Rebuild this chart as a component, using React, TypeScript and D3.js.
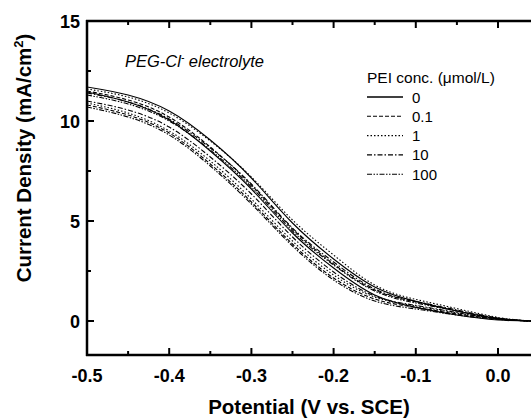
import React from 'react';
import * as d3 from 'd3';

// potential grid (V vs. SCE) shared by every scan
const potentials = [-0.5, -0.45, -0.4, -0.35, -0.3, -0.25, -0.2, -0.15, -0.1, -0.05, 0, 0.04];

// PEI concentrations (umol/L), two scans each
const concLabels = ['0', '0.1', '1', '10', '100'];
const dashes = ['', '4 2', '1.5 2', '5 2 1.5 2', '5 1.5 1.5 1.5 1.5 1.5'];

const scanA = [
  [11.7, 11.3, 10.5, 9.05, 7.15, 4.9, 3.1, 1.7, 0.98, 0.5, 0.12, 0],
  [11.5, 11.05, 10.2, 8.7, 6.8, 4.6, 2.85, 1.55, 0.95, 0.5, 0.14, 0],
  [11.6, 11.2, 10.4, 9.0, 7.2, 5.05, 3.3, 1.8, 1.08, 0.62, 0.18, 0],
  [11.4, 10.95, 10.1, 8.65, 6.85, 4.65, 2.95, 1.6, 0.98, 0.55, 0.15, 0],
  [11.3, 10.85, 10.0, 8.55, 6.7, 4.5, 2.8, 1.5, 0.9, 0.5, 0.13, 0],
];
const scanB = [
  [11.45, 10.95, 10.05, 8.5, 6.6, 4.4, 2.65, 1.3, 0.68, 0.3, 0.05, 0],
  [10.8, 10.3, 9.4, 7.85, 5.95, 3.85, 2.15, 1.1, 0.68, 0.35, 0.1, 0],
  [10.9, 10.4, 9.5, 8.0, 6.1, 4.0, 2.3, 1.2, 0.75, 0.4, 0.11, 0],
  [11.0, 10.55, 9.7, 8.2, 6.35, 4.2, 2.45, 1.25, 0.78, 0.42, 0.11, 0],
  [10.7, 10.2, 9.3, 7.75, 5.85, 3.75, 2.05, 1.0, 0.6, 0.3, 0.08, 0],
];

const xTicks = [-0.5, -0.4, -0.3, -0.2, -0.1, 0.0];
const xMinor = [-0.45, -0.35, -0.25, -0.15, -0.05, 0.05];
const yTicks = [0, 5, 10, 15];
const yMinor = [2.5, 7.5, 12.5];

export default function App() {
  const width = 531;
  const height = 418;
  const left = 87;
  const top = 21;
  const bottom = 355;

  const x = d3.scaleLinear().domain([-0.5, 0]).range([left, 498]);
  const y = d3.scaleLinear().domain([0, 15]).range([321, top]);

  const line = d3
    .line<number>()
    .x((d, i) => x(potentials[i]))
    .y((d) => y(d))
    .curve(d3.curveNatural);

  const font = 'Liberation Sans, Arial, sans-serif';

  return (
    <svg
      width={width}
      height={height}
      style={{ position: 'absolute', left: 0, top: 0, background: '#fff' }}
      fontFamily={font}
    >
      <defs>
        <clipPath id="plot">
          <rect x={left} y={top} width={width - left} height={bottom - top} />
        </clipPath>
      </defs>

      <g clipPath="url(#plot)" fill="none" stroke="#000" strokeWidth={1.1}>
        {concLabels.map((c, i) => (
          <g key={c} strokeDasharray={dashes[i] || undefined}>
            <path d={line(scanA[i]) || ''} />
            <path d={line(scanB[i]) || ''} />
          </g>
        ))}
      </g>

      {/* frame */}
      <g stroke="#000" strokeWidth={2.5} fill="none">
        <line x1={left} x2={left} y1={top - 1} y2={bottom + 1} />
        <line x1={left - 1} x2={width} y1={bottom} y2={bottom} />
        <line x1={left - 1} x2={width} y1={top} y2={top} />
      </g>

      {/* ticks */}
      <g stroke="#000" strokeWidth={2}>
        {xTicks.map((t) => (
          <g key={t}>
            <line x1={x(t)} x2={x(t)} y1={bottom} y2={bottom - 7} />
            <line x1={x(t)} x2={x(t)} y1={top} y2={top + 7} />
          </g>
        ))}
        {xMinor.map((t) => (
          <g key={t}>
            <line x1={x(t)} x2={x(t)} y1={bottom} y2={bottom - 4} />
            <line x1={x(t)} x2={x(t)} y1={top} y2={top + 4} />
          </g>
        ))}
        {yTicks.map((t) => (
          <line key={t} x1={left} x2={left + 7} y1={y(t)} y2={y(t)} />
        ))}
        {yMinor.map((t) => (
          <line key={t} x1={left} x2={left + 4} y1={y(t)} y2={y(t)} />
        ))}
      </g>

      <g fontWeight="bold" fontSize={18} fill="#000">
        {xTicks.map((t) => (
          <text key={t} x={x(t)} y={382} textAnchor="middle">
            {d3.format('.1f')(t).replace('−', '-')}
          </text>
        ))}
        {yTicks.map((t) => (
          <text key={t} x={80} y={y(t) + 6.5} textAnchor="end">
            {t}
          </text>
        ))}
      </g>

      <text x={309} y={414} textAnchor="middle" fontWeight="bold" fontSize={20.5}>
        Potential (V vs. SCE)
      </text>
      <text
        transform="translate(31,158) rotate(-90)"
        textAnchor="middle"
        fontWeight="bold"
        fontSize={20.5}
      >
        Current Density (mA/cm<tspan dy={-8} fontSize={13}>2</tspan>
        <tspan dy={8}>)</tspan>
      </text>

      <text x={125} y={67} fontStyle="italic" fontSize={16.5}>
        PEG-Cl<tspan dy={-6} fontSize={10}>-</tspan>
        <tspan dy={6}> electrolyte</tspan>
      </text>

      {/* legend */}
      <g>
        <text x={367} y={83} fontSize={15.5}>
          PEI conc. (μmol/L)
        </text>
        {concLabels.map((c, i) => {
          const ly = 97 + i * 19.3;
          return (
            <g key={c}>
              <line
                x1={367}
                x2={403}
                y1={ly}
                y2={ly}
                stroke="#000"
                strokeWidth={i === 0 ? 1.6 : 1.1}
                strokeDasharray={dashes[i] || undefined}
              />
              <text x={412} y={ly + 5.5} fontSize={15}>
                {c}
              </text>
            </g>
          );
        })}
      </g>
    </svg>
  );
}
